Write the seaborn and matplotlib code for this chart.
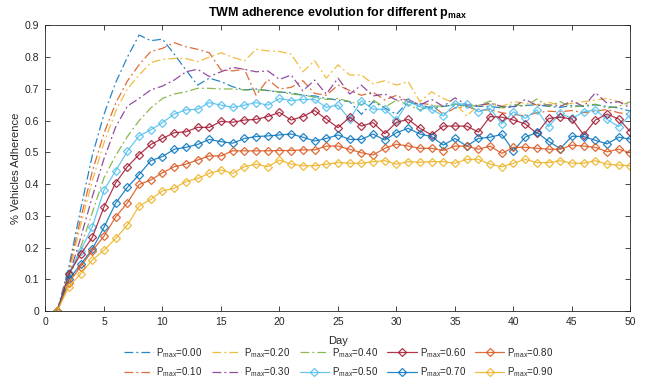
import numpy as np
import pandas as pd
import matplotlib
matplotlib.use("Agg")
import matplotlib.pyplot as plt
import seaborn as sns

days = list(range(1, 51))

p_max_labels = ["0.00", "0.10", "0.20", "0.30", "0.40",
                "0.50", "0.60", "0.70", "0.80", "0.90"]

p000 = [0, 0.14, 0.32, 0.49, 0.62, 0.72, 0.80, 0.87, 0.852, 0.857,
        0.81, 0.76, 0.712, 0.734, 0.723, 0.707, 0.697, 0.70, 0.695, 0.69,
        0.688, 0.68, 0.678, 0.67, 0.665, 0.66, 0.62, 0.66, 0.64, 0.62,
        0.66, 0.65, 0.64, 0.645, 0.65, 0.648, 0.645, 0.645, 0.64, 0.645,
        0.648, 0.65, 0.645, 0.642, 0.648, 0.645, 0.65, 0.645, 0.64, 0.63]

p010 = [0, 0.13, 0.29, 0.44, 0.56, 0.655, 0.725, 0.776, 0.818, 0.828,
        0.846, 0.833, 0.825, 0.814, 0.76, 0.757, 0.762, 0.68, 0.73, 0.70,
        0.705, 0.726, 0.686, 0.68, 0.712, 0.695, 0.68, 0.69, 0.665, 0.68,
        0.66, 0.655, 0.65, 0.62, 0.64, 0.645, 0.632, 0.635, 0.625, 0.62,
        0.615, 0.625, 0.63, 0.628, 0.632, 0.625, 0.63, 0.635, 0.625, 0.62]

p020 = [0, 0.12, 0.27, 0.41, 0.53, 0.63, 0.70, 0.744, 0.783, 0.793,
        0.796, 0.796, 0.786, 0.80, 0.814, 0.80, 0.788, 0.825, 0.82, 0.818,
        0.81, 0.754, 0.789, 0.734, 0.776, 0.744, 0.744, 0.716, 0.726, 0.712,
        0.723, 0.66, 0.691, 0.67, 0.655, 0.615, 0.648, 0.652, 0.645, 0.66,
        0.655, 0.65, 0.658, 0.648, 0.655, 0.66, 0.665, 0.67, 0.66, 0.65]

p030 = [0, 0.11, 0.23, 0.36, 0.48, 0.58, 0.646, 0.67, 0.697, 0.709,
        0.728, 0.754, 0.762, 0.739, 0.754, 0.768, 0.762, 0.754, 0.757, 0.73,
        0.744, 0.694, 0.728, 0.684, 0.734, 0.684, 0.712, 0.678, 0.684, 0.665,
        0.667, 0.649, 0.667, 0.645, 0.672, 0.65, 0.648, 0.655, 0.645, 0.642,
        0.667, 0.648, 0.65, 0.645, 0.662, 0.645, 0.688, 0.655, 0.66, 0.64]

p040 = [0, 0.10, 0.20, 0.31, 0.42, 0.49, 0.55, 0.60, 0.64, 0.67,
        0.684, 0.691, 0.702, 0.702, 0.70, 0.70, 0.697, 0.697, 0.695, 0.691,
        0.684, 0.681, 0.674, 0.667, 0.67, 0.66, 0.65, 0.665, 0.642, 0.665,
        0.65, 0.634, 0.647, 0.645, 0.652, 0.645, 0.648, 0.662, 0.64, 0.652,
        0.645, 0.668, 0.645, 0.66, 0.642, 0.648, 0.652, 0.64, 0.645, 0.66]

p050 = [0, 0.12, 0.19, 0.265, 0.381, 0.442, 0.504, 0.552, 0.571, 0.594,
        0.621, 0.634, 0.636, 0.657, 0.649, 0.642, 0.649, 0.657, 0.649, 0.67,
        0.663, 0.667, 0.667, 0.642, 0.649, 0.604, 0.663, 0.636, 0.636, 0.602,
        0.66, 0.644, 0.636, 0.615, 0.653, 0.653, 0.628, 0.639, 0.59, 0.628,
        0.607, 0.634, 0.581, 0.623, 0.607, 0.628, 0.634, 0.604, 0.581, 0.62]

p060 = [0, 0.117, 0.179, 0.232, 0.328, 0.404, 0.455, 0.493, 0.525, 0.544,
        0.562, 0.565, 0.579, 0.579, 0.598, 0.595, 0.602, 0.604, 0.613, 0.626,
        0.602, 0.613, 0.632, 0.605, 0.578, 0.611, 0.583, 0.594, 0.559, 0.595,
        0.604, 0.576, 0.555, 0.583, 0.583, 0.583, 0.564, 0.613, 0.611, 0.602,
        0.59, 0.56, 0.607, 0.611, 0.605, 0.555, 0.602, 0.621, 0.605, 0.565]

p070 = [0, 0.10, 0.147, 0.195, 0.264, 0.34, 0.39, 0.43, 0.474, 0.487,
        0.51, 0.516, 0.525, 0.541, 0.534, 0.529, 0.544, 0.55, 0.552, 0.555,
        0.558, 0.548, 0.536, 0.544, 0.555, 0.541, 0.541, 0.558, 0.539, 0.562,
        0.576, 0.558, 0.55, 0.523, 0.544, 0.52, 0.544, 0.548, 0.557, 0.505,
        0.548, 0.563, 0.535, 0.512, 0.551, 0.55, 0.538, 0.527, 0.548, 0.542]

p080 = [0, 0.09, 0.14, 0.19, 0.236, 0.297, 0.341, 0.399, 0.413, 0.436,
        0.455, 0.463, 0.476, 0.489, 0.489, 0.505, 0.505, 0.505, 0.505, 0.506,
        0.506, 0.508, 0.508, 0.52, 0.52, 0.51, 0.499, 0.492, 0.513, 0.526,
        0.52, 0.513, 0.513, 0.506, 0.52, 0.52, 0.51, 0.52, 0.497, 0.516,
        0.516, 0.513, 0.51, 0.51, 0.523, 0.52, 0.516, 0.502, 0.51, 0.499]

p090 = [0, 0.077, 0.117, 0.161, 0.192, 0.229, 0.271, 0.331, 0.352, 0.379,
        0.387, 0.408, 0.418, 0.434, 0.445, 0.434, 0.455, 0.463, 0.455, 0.476,
        0.463, 0.458, 0.458, 0.463, 0.468, 0.466, 0.466, 0.471, 0.474, 0.463,
        0.471, 0.469, 0.471, 0.471, 0.466, 0.478, 0.478, 0.463, 0.455, 0.466,
        0.478, 0.468, 0.468, 0.474, 0.466, 0.466, 0.474, 0.463, 0.46, 0.458]

series = [p000, p010, p020, p030, p040, p050, p060, p070, p080, p090]

# MATLAB-like default colour order (wraps after seven entries)
colors = ["#0072BD", "#D95319", "#EDB120", "#7E2F8E", "#77AC30",
          "#4DBEEE", "#A2142F", "#0072BD", "#D95319", "#EDB120"]

frames = []
for lab, vals in zip(p_max_labels, series):
    frames.append(pd.DataFrame({"Day": days, "Adherence": vals, "pmax": lab}))
df = pd.concat(frames, ignore_index=True)

sns.set_style("ticks")
plt.rcParams["font.family"] = ["Liberation Sans", "DejaVu Sans"]
plt.rcParams["mathtext.fontset"] = "custom"
plt.rcParams["mathtext.rm"] = "Liberation Sans"
plt.rcParams["mathtext.bf"] = "Liberation Sans:bold"
plt.rcParams["mathtext.it"] = "Liberation Sans"
plt.rcParams["xtick.direction"] = "in"
plt.rcParams["ytick.direction"] = "in"

fig = plt.figure(figsize=(6.45, 3.86), dpi=100)
ax = fig.add_axes([0.0705, 0.194, 0.907, 0.740])

for i, lab in enumerate(p_max_labels):
    sub = df[df["pmax"] == lab]
    c = colors[i]
    legend_label = r"P$_{\rm max}$=" + lab
    if i < 5:
        sns.lineplot(data=sub, x="Day", y="Adherence", ax=ax, color=c,
                     linewidth=0.9, alpha=0.85, label=legend_label,
                     dashes=False, linestyle=(0, (7, 2.5, 1.5, 2.5)))
    else:
        sns.lineplot(data=sub, x="Day", y="Adherence", ax=ax, color=c,
                     linewidth=0.9, alpha=0.85, label=legend_label,
                     marker="D", markersize=4.2, markerfacecolor="none",
                     markeredgecolor=c, markeredgewidth=0.9)

ax.set_xlim(0, 50)
ax.set_ylim(0, 0.9)
ax.set_xticks(np.arange(0, 51, 5))
ax.set_yticks(np.round(np.arange(0, 0.91, 0.1), 1))
ax.set_yticklabels(["0", "0.1", "0.2", "0.3", "0.4", "0.5",
                    "0.6", "0.7", "0.8", "0.9"])
ax.tick_params(axis="both", which="both", labelsize=7.5, length=3.5,
               width=0.6, colors="#262626", top=True, right=True, pad=4.5)
for sp in ax.spines.values():
    sp.set_linewidth(0.6)
    sp.set_color("#262626")
    sp.set_visible(True)

ax.set_xlabel("Day", fontsize=8, color="#262626", labelpad=6)
ax.set_ylabel("% Vehicles Adherence", fontsize=8, color="#262626", labelpad=3)
ax.set_title(r"TWM adherence evolution for different p$_{\mathbf{max}}$",
             fontsize=9, fontweight="bold", color="#000000", pad=7)

handles, labels = ax.get_legend_handles_labels()
ax.get_legend().remove()
fig.legend(handles, labels, ncol=5, loc="upper center",
           bbox_to_anchor=(0.525, 0.122), frameon=False, fontsize=7,
           handlelength=3.0, columnspacing=1.0, handletextpad=0.3,
           labelspacing=0.6, borderpad=0.2)

fig.savefig("out.png", dpi=100, facecolor="white")
